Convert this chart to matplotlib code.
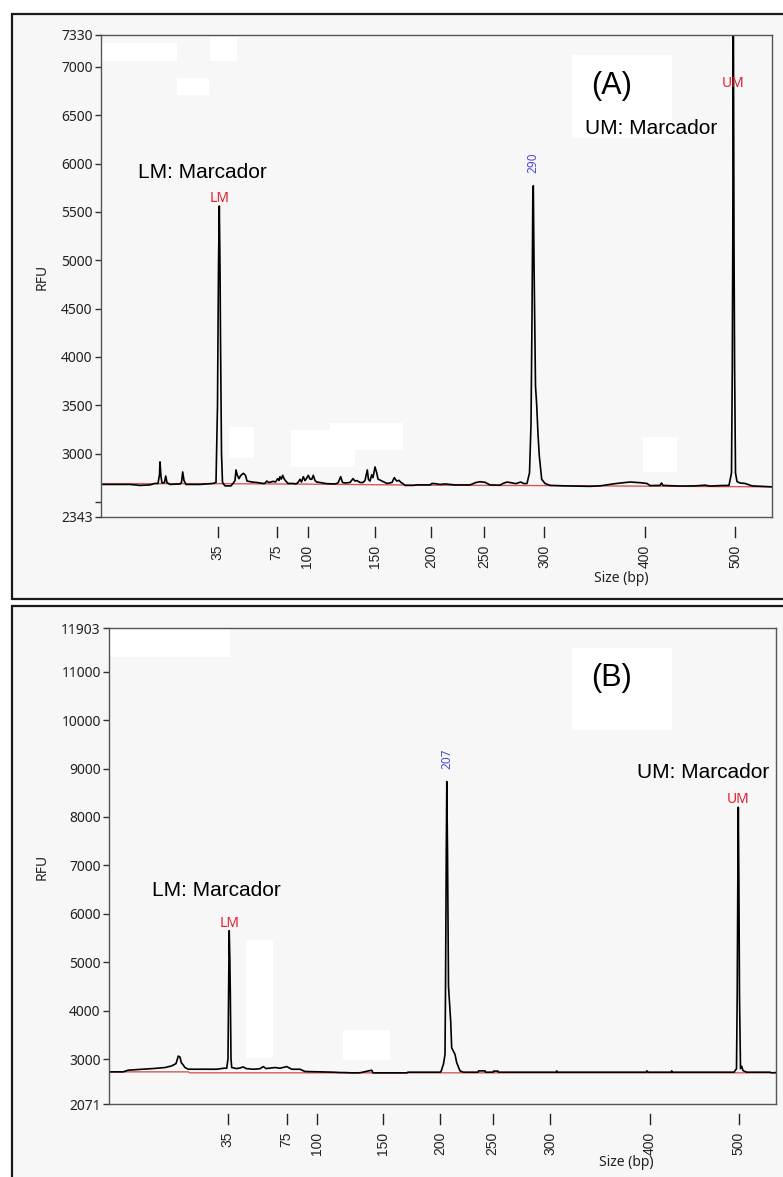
import matplotlib
matplotlib.use("Agg")
import matplotlib.pyplot as plt
import matplotlib.patches as patches
import matplotlib.transforms as mtransforms

W, H = 783, 1177

# ladder: fragment sizes (bp) and the migration position they give in each run
ladder_bp = [35, 75, 100, 150, 200, 250, 300, 400, 500]
ladder_mig_a = [117.5, 176.5, 207.5, 275, 331, 384, 444, 545, 635]
ladder_mig_b = [127.5, 186.5, 216.5, 282.5, 340, 392.5, 450, 550, 638.5]

yticks_a = [2343, 3000, 3500, 4000, 4500, 5000, 5500, 6000, 6500, 7000, 7330]
yticks_b = [2071, 3000, 4000, 5000, 6000, 7000, 8000, 9000, 10000, 11000, 11903]

# electropherogram (A): (migration, RFU)
trace_a = [
    (3, 2680), (30, 2680), (40, 2670), (50, 2675), (55, 2690), (58, 2690),
    (59.5, 2780), (60, 2913), (61, 2760), (62, 2695), (64.5, 2700), (65.7, 2767),
    (67, 2700), (70, 2680), (80, 2685), (81.5, 2700), (82.7, 2809), (84, 2720),
    (86, 2680), (100, 2680), (113, 2690), (116, 2700), (117.5, 3500), (118.5, 4950),
    (119.3, 5560), (120, 4950), (120.5, 4200), (121.5, 3000), (122.5, 2700),
    (125, 2665), (131, 2665), (133, 2690), (135, 2720), (136, 2830), (137.5, 2770),
    (139, 2740), (140.5, 2770), (143.3, 2795), (145.5, 2775), (147, 2715),
    (152, 2705), (157, 2700), (163, 2690), (165, 2691), (166.7, 2715), (169, 2700),
    (173.3, 2712), (175.5, 2705), (177.7, 2740), (179, 2720), (180, 2760),
    (181.3, 2735), (182.7, 2774), (184, 2740), (185, 2725), (188, 2690),
    (193, 2690), (196, 2685), (198, 2700), (200, 2733), (201.5, 2705),
    (203.3, 2760), (205, 2720), (206, 2733), (208.3, 2774), (210, 2735),
    (211.7, 2733), (213.3, 2774), (215, 2720), (216.7, 2705), (220, 2700),
    (226.7, 2688), (235, 2685), (238, 2695), (240.7, 2760), (242.5, 2700),
    (245, 2695), (250, 2700), (253, 2740), (255, 2715), (257, 2720), (260, 2700),
    (263, 2700), (265, 2720), (267.3, 2830), (268.5, 2730), (270, 2715),
    (271.7, 2780), (273, 2750), (275, 2861), (276.7, 2800), (278, 2735),
    (280, 2725), (283, 2710), (287, 2690), (292, 2700), (294.3, 2750),
    (296.7, 2715), (299, 2722), (301, 2700), (303, 2688), (305, 2670),
    (313, 2670), (317, 2675), (330, 2675), (332, 2690), (335, 2688), (340, 2680),
    (345, 2685), (355, 2675), (370, 2675), (376, 2700), (380, 2708), (385, 2702),
    (390, 2675), (400, 2672), (403, 2690), (407, 2705), (412, 2695), (416, 2688),
    (420.7, 2705), (424, 2688), (427, 2690), (429.5, 2800), (431, 3300),
    (432, 4400), (432.8, 5640), (433.3, 5770), (434, 5000), (434.8, 4350),
    (435.5, 3700), (436.7, 3500), (438, 3200), (439.3, 2976), (441.7, 2733),
    (445, 2690), (450, 2670), (465, 2665), (480, 2662), (490, 2660), (500, 2665),
    (515, 2688), (525, 2700), (530, 2705), (540, 2698), (547, 2690), (550, 2668),
    (560, 2670), (561.5, 2695), (563, 2670), (580, 2663), (595, 2665),
    (605, 2672), (610, 2663), (620, 2668), (629, 2670), (631.5, 2800),
    (632.3, 3900), (632.8, 5220), (633.3, 7800), (634, 5220), (634.6, 3900),
    (635.5, 2800), (637, 2710), (640, 2695), (645, 2690), (652, 2665), (672, 2655),
]
baseline_a = [(3, 2688), (120, 2688), (220, 2682), (330, 2672), (445, 2668), (672, 2655)]

# electropherogram (B)
trace_b = [
    (9, 2735), (23.3, 2735), (28, 2769), (43, 2790), (53, 2803), (65, 2824),
    (71.7, 2858), (76, 2905), (78.3, 3061), (80, 3041), (81.3, 2925), (82.7, 2891),
    (85, 2824), (88.3, 2790), (96.7, 2789), (103, 2790), (116.7, 2789),
    (124, 2810), (126.7, 2810), (128, 3000), (128.6, 4400), (129.2, 5650),
    (129.8, 5100), (130.3, 4400), (131, 3000), (131.7, 2824), (136.7, 2803),
    (140, 2815), (143.3, 2837), (146, 2803), (153.3, 2789), (160, 2800),
    (163.3, 2844), (166, 2803), (175, 2824), (180, 2810), (186.7, 2844),
    (191.7, 2789), (200, 2789), (205, 2742), (220, 2735), (233.3, 2728),
    (240, 2721), (245, 2720), (251.7, 2714), (260, 2716), (271.7, 2769),
    (273, 2714), (280, 2714), (306.7, 2714), (308, 2728), (340, 2728),
    (341, 2740), (343.5, 2900), (345, 3095), (345.5, 4400), (346.3, 7300),
    (346.8, 8730), (347.5, 7300), (348.5, 4500), (350.7, 3775), (351.7, 3231),
    (355, 3095), (356.7, 2925), (360, 2755), (363.3, 2728), (378, 2728),
    (378.5, 2755), (385, 2755), (385.5, 2728), (393, 2728), (393.5, 2750),
    (398, 2750), (398.5, 2728), (456, 2728), (456.7, 2755), (457.5, 2728),
    (546, 2728), (547, 2755), (548, 2728), (571, 2728), (571.7, 2755),
    (572.5, 2728), (634, 2728), (636.5, 2800), (637.2, 4300), (637.8, 6600),
    (638.3, 8200), (638.9, 6600), (639.5, 4300), (640.5, 2800), (641.7, 2850),
    (643, 2760), (646.7, 2728), (670, 2728), (671.7, 2715), (676, 2720),
]
baseline_b = [(9, 2735), (88, 2735), (90, 2715), (676, 2715)]

# called peaks: (label, migration, RFU)
peaks_a = [("LM", 119.3, 5560), ("290", 433.3, 5770), ("UM", 633.3, 7800)]
peaks_b = [("LM", 129.2, 5650), ("207", 346.8, 8730), ("UM", 638.3, 8200)]

RED = "#e0202e"
BLUE = "#4a4ad6"
BG = "#f7f7f7"


def fx(x):
    return x / W


def fy(y):
    return 1 - y / H


fig = plt.figure(figsize=(W / 100, H / 100), dpi=100)

# outer frames of the two screenshots
for top, bottom in [(14, 599), (606, 1195)]:
    fig.patches.append(patches.Rectangle(
        (fx(12), fy(bottom)), fx(800) - fx(12), fy(top) - fy(bottom),
        transform=fig.transFigure, facecolor=BG, edgecolor="#1a1a1a",
        linewidth=1.6, zorder=-5))

panels = [
    dict(rect=(101, 35, 772, 517), xlim=(1, 672), ylim=(2343, 7330),
         yticks=yticks_a, ladder=ladder_mig_a, trace=trace_a, base=baseline_a,
         peaks=peaks_a, minor=[2500],
         lm_txt=(138, 172), um_txt=(585, 129), tag=("(A)", 591, 86),
         rfu=(42, 277), size=(621, 578),
         blanks=[(102, 43, 177, 61), (210, 37, 237, 61), (177, 78, 209, 95),
                 (572, 55, 672, 138), (229, 427, 254, 458), (291, 430, 355, 467),
                 (330, 423, 403, 450), (643, 437, 677, 472)]),
    dict(rect=(109, 628, 776, 1104), xlim=(9, 676), ylim=(2071, 11903),
         yticks=yticks_b, ladder=ladder_mig_b, trace=trace_b, base=baseline_b,
         peaks=peaks_b, minor=[],
         lm_txt=(152, 890), um_txt=(637, 772), tag=("(B)", 591, 678),
         rfu=(42, 867), size=(626, 1163),
         blanks=[(110, 628, 230, 657), (572, 648, 672, 730),
                 (246, 940, 273, 1058), (343, 1030, 390, 1060)]),
]

for p in panels:
    x0, y0, x1, y1 = p["rect"]
    ax = fig.add_axes([fx(x0), fy(y1), fx(x1) - fx(x0), fy(y0) - fy(y1)])
    ax.set_zorder(1)
    ax.set_facecolor(BG)
    ax.set_xlim(*p["xlim"])
    ax.set_ylim(*p["ylim"])

    for bx0, by0, bx1, by1 in p["blanks"]:
        ax.add_patch(patches.Rectangle(
            (fx(bx0), fy(by1)), fx(bx1) - fx(bx0), fy(by0) - fy(by1),
            transform=fig.transFigure, facecolor="white", edgecolor="none",
            zorder=0.5, clip_on=False))

    bx, by = zip(*p["base"])
    ax.plot(bx, by, color="#d45a5a", lw=1.0, zorder=1)
    tx, ty = zip(*p["trace"])
    ax.plot(tx, ty, color="black", lw=1.2, zorder=2)

    top = p["ylim"][1]
    for label, mig, rfu in p["peaks"]:
        if label in ("LM", "UM"):
            ypos = rfu if rfu < top else top - 500
            va = "baseline" if rfu < top else "center"
            ax.annotate(label, (mig, ypos), xytext=(0, 3 if rfu < top else 0),
                        textcoords="offset points", ha="center", va=va,
                        color=RED, fontsize=10, family="Noto Sans", zorder=3)
        else:
            ax.annotate(label, (mig, rfu), xytext=(0, 9),
                        textcoords="offset points", ha="center", va="bottom",
                        rotation=90, color=BLUE, fontsize=8.5,
                        fontweight="bold", family="Noto Sans", zorder=3)

    # y axis
    ax.set_yticks(p["yticks"])
    ax.set_yticklabels([str(v) for v in p["yticks"]], family="Noto Sans",
                       fontsize=10, color="#222222")
    ax.set_yticks(p["minor"], minor=True)
    ax.tick_params(axis="y", which="both", direction="out", length=4,
                   width=1.0, color="#333333", pad=2)

    # x axis: ladder sizes, rotated labels; tick marks float below the axis
    ax.set_xticks(p["ladder"])
    ax.set_xticklabels([str(s) for s in ladder_bp], rotation=90,
                       family="Liberation Sans", fontsize=10, color="#222222",
                       va="top")
    ax.tick_params(axis="x", length=0, pad=20)
    hgt = y1 - y0
    trans = mtransforms.blended_transform_factory(ax.transData, ax.transAxes)
    for m in p["ladder"]:
        ax.plot([m, m], [-10 / hgt, -20 / hgt], color="#222222", lw=1.0,
                transform=trans, clip_on=False)

    for sp in ax.spines.values():
        sp.set_color("#555555")
        sp.set_linewidth(1.0)

    # annotations
    fig.text(fx(p["lm_txt"][0]), fy(p["lm_txt"][1]), "LM: Marcador",
             family="Liberation Sans", fontsize=15, va="center", ha="left")
    fig.text(fx(p["um_txt"][0]), fy(p["um_txt"][1]), "UM: Marcador",
             family="Liberation Sans", fontsize=15, va="center", ha="left")
    tag, tx0, ty0 = p["tag"]
    fig.text(fx(tx0), fy(ty0), tag, family="Liberation Sans", fontsize=22,
             va="center", ha="left")
    fig.text(fx(p["rfu"][0]), fy(p["rfu"][1]), "RFU", rotation=90,
             family="Noto Sans", fontsize=10, color="#222222",
             va="center", ha="center")
    fig.text(fx(p["size"][0]), fy(p["size"][1]), "Size (bp)",
             family="Noto Sans", fontsize=10, color="#222222",
             va="center", ha="center")

fig.savefig("out.png", dpi=100, facecolor="white")
